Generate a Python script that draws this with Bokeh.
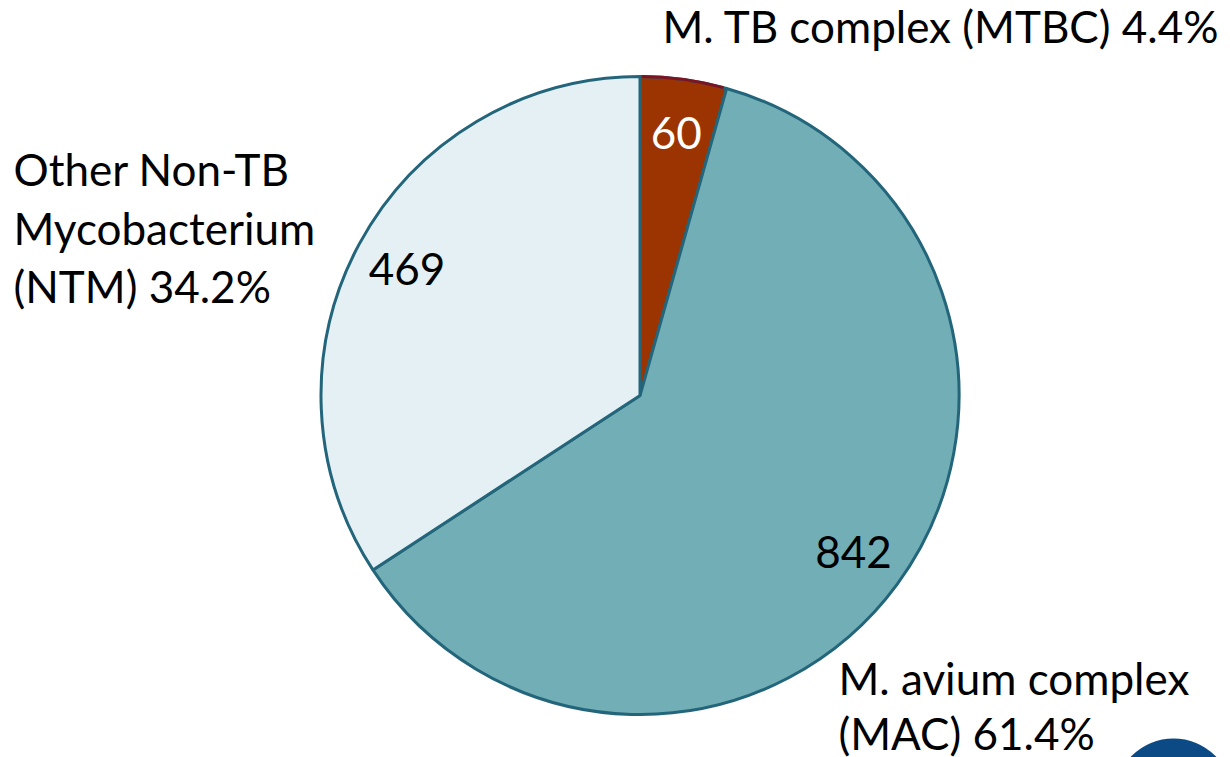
import math
from bokeh.plotting import figure
from bokeh.models import Range1d, ColumnDataSource
from bokeh.core.properties import value
from bokeh.embed import file_html
from bokeh.resources import INLINE

# ---- data ----
categories = ["M. TB complex (MTBC)", "M. avium complex (MAC)", "Other Non-TB Mycobacterium (NTM)"]
counts = [60, 842, 469]
percent_labels = ["4.4%", "61.4%", "34.2%"]
colors = ["#9B3400", "#72AEB6", "#E4F0F3"]
count_text_colors = ["white", "black", "black"]

W, H = 1230, 757
FONT = "Lato"

def fx(x):  # reference pixel -> data x
    return x

def fy(y):  # reference pixel -> data y (y up)
    return H - y

p = figure(width=W, height=H, x_range=Range1d(0, W), y_range=Range1d(0, H),
           x_axis_type=None, y_axis_type=None, toolbar_location=None,
           output_backend="svg", min_border=0)
p.grid.visible = False
p.outline_line_color = None
p.background_fill_color = "white"
p.border_fill_color = "white"

cx, cy, r = fx(639.5), fy(395), 319

total = sum(counts)
starts, ends, mids = [], [], []
a = math.pi / 2
for c in counts:
    sweep = 2 * math.pi * c / total
    starts.append(a - sweep)
    ends.append(a)
    mids.append(a - sweep / 2)
    a -= sweep

src = ColumnDataSource(dict(start=starts, end=ends, color=colors,
                            cat=categories, count=counts))
p.wedge(x=cx, y=cy, radius=r, start_angle="start", end_angle="end",
        fill_color="color", line_color="#23657A", line_width=3, source=src)
# darker rim on the MTBC slice, as in the reference
p.arc(x=cx, y=cy, radius=r, start_angle=starts[0] + 0.01, end_angle=ends[0] - 0.005,
      line_color="#7C1424", line_width=3)

# count labels inside slices
lr = 265
lx = [cx + lr * math.cos(m) for m in mids]
ly = [cy + lr * math.sin(m) for m in mids]
lsrc = ColumnDataSource(dict(x=lx, y=ly, t=[str(c) for c in counts], col=count_text_colors))
p.text(x="x", y="y", text="t", text_color="col", source=lsrc,
       text_font=value(FONT), text_font_size="44px",
       text_align="center", text_baseline="middle")

# outer category labels
lab_lines = [
    ("M. TB complex (MTBC) " + percent_labels[0], 662, 25),
    ("Other Non-TB", 13, 168),
    ("Mycobacterium", 13, 227),
    ("(NTM) " + percent_labels[2], 13, 285),
    ("M. avium complex", 838, 677),
    ("(MAC) " + percent_labels[1], 838, 732),
]
osrc = ColumnDataSource(dict(x=[fx(l[1]) for l in lab_lines], y=[fy(l[2]) for l in lab_lines],
                             t=[l[0] for l in lab_lines]))
p.text(x="x", y="y", text="t", source=osrc, text_color="black",
       text_font=value(FONT), text_font_size="44px",
       text_align="left", text_baseline="middle")

# partial logo circle at bottom right
p.scatter(x=[fx(1173)], y=[fy(797)], size=118, marker="circle",
          fill_color="#0B4A85", line_color=None)

open("out.html", "w").write(file_html(p, INLINE))
